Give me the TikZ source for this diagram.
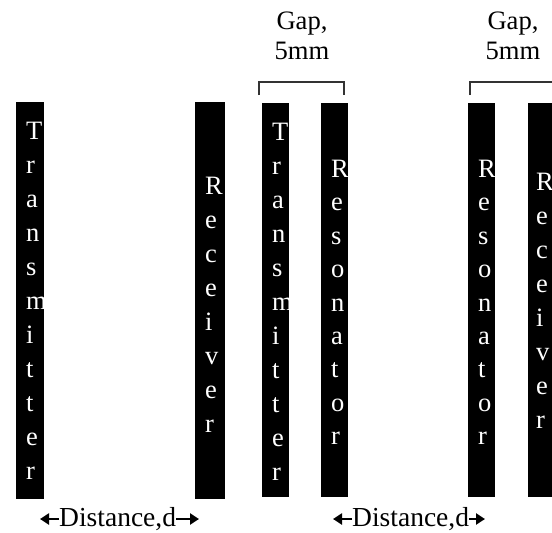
\documentclass[tikz,border=0pt]{standalone}
\usepackage{fontspec}
\setmainfont{Liberation Serif}
\usetikzlibrary{arrows.meta}
\tikzset{
  bar/.style={fill=black, draw=none, anchor=north west, inner sep=0pt, minimum width=#1},
  letters/.style={text=white, anchor=north west, inner sep=0pt, align=left,
    font=\fontsize{26.5}{34}\selectfont},
  gaplabel/.style={text=black, inner sep=0pt, align=center,
    font=\fontsize{26.6}{30}\selectfont},
  distlabel/.style={text=black, inner sep=0pt,
    font=\fontsize{27.5}{30}\selectfont},
  bracket/.style={draw=black!80, line width=1.4pt},
  darrow/.style={line width=2.6pt, -{Triangle[length=9pt,width=11pt]}},
}
\begin{document}
\begin{tikzpicture}[x=1pt,y=-1pt]
\useasboundingbox (0,0) rectangle (552,533);
% bars
\node[bar=28pt, minimum height=397pt] (b1) at (16,102) {};
\node[bar=30pt, minimum height=397pt] (b2) at (195,102) {};
\node[bar=27pt, minimum height=394pt] (b3) at (262,103) {};
\node[bar=27pt, minimum height=394pt] (b4) at (321,103) {};
\node[bar=27pt, minimum height=394pt] (b5) at (468,103) {};
\node[bar=32pt, minimum height=394pt] (b6) at (528,103) {};
% letters
\node[letters] (t1) at (26,122) {T\\r\\a\\n\\s\\m\\i\\t\\t\\e\\r};
\node[letters] (t2) at (205,177) {R\\e\\c\\e\\i\\v\\e\\r};
\node[letters] (t3) at (272,123) {T\\r\\a\\n\\s\\m\\i\\t\\t\\e\\r};
\node[letters, font=\fontsize{26.5}{33.4}\selectfont] (t4) at (331,160) {R\\e\\s\\o\\n\\a\\t\\o\\r};
\node[letters, font=\fontsize{26.5}{33.4}\selectfont] (t5) at (478,160) {R\\e\\s\\o\\n\\a\\t\\o\\r};
\node[letters] (t6) at (536,173) {R\\e\\c\\e\\i\\v\\e\\r};
% brackets
\coordinate (g1a) at (259,95);
\coordinate (g1b) at (344,95);
\coordinate (g2a) at (470,95);
\coordinate (g2b) at (556,95);
\draw[bracket] (g1a) -- (g1a |- 0,82) -- (g1b |- 0,82) -- (g1b);
\draw[bracket] (g2a) -- (g2a |- 0,82) -- (g2b |- 0,82) -- (g2b);
% gap labels
\node[gaplabel, anchor=north] (gap1) at (302,12) {Gap,\\5mm};
\node[gaplabel, anchor=north] (gap2) at (513,12) {Gap,\\5mm};
% distance labels
\node[distlabel, anchor=base west] (d1) at (59,526) {Distance,d};
\node[distlabel, anchor=base west] (d2) at (352,526) {Distance,d};
\coordinate (d1l) at (40,519);
\coordinate (d1r) at (199,519);
\coordinate (d2l) at (333,519);
\coordinate (d2r) at (485,519);
\draw[darrow] (d1.west |- d1l) -- (d1l);
\draw[darrow] (d1.east |- d1r) -- (d1r);
\draw[darrow] (d2.west |- d2l) -- (d2l);
\draw[darrow] (d2.east |- d2r) -- (d2r);
\end{tikzpicture}
\end{document}
